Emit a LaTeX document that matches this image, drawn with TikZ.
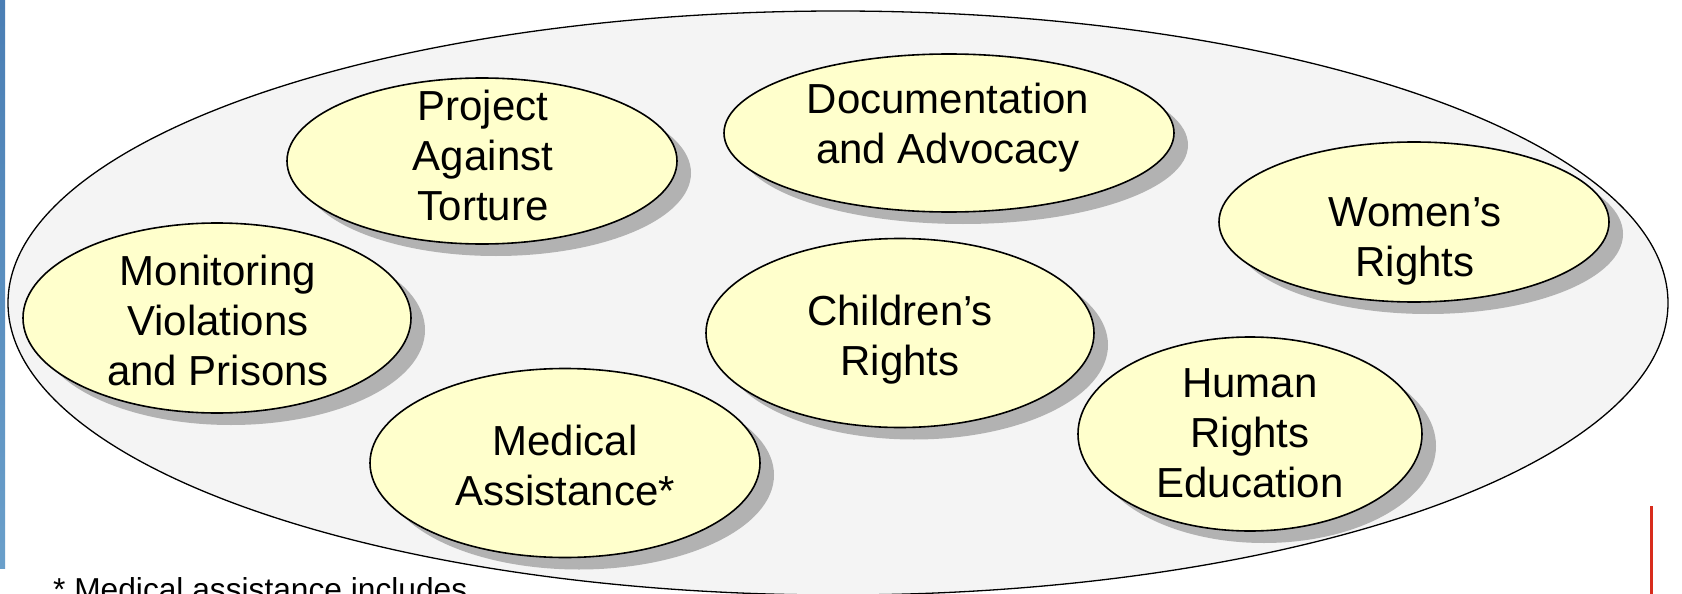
\documentclass[tikz,border=0pt]{standalone}
\usepackage{fontspec}
\setmainfont{Liberation Sans}
\usetikzlibrary{shapes.geometric,shadows}
\definecolor{blobfill}{HTML}{FFFFCC}
\definecolor{outerfill}{HTML}{F4F4F4}
\definecolor{shadowgray}{HTML}{B2B2B2}
\definecolor{bartop}{HTML}{4A7EB4}
\definecolor{barbottom}{HTML}{6A9FCA}
\definecolor{redline}{HTML}{D82C1C}
\begin{document}
\begin{tikzpicture}[x=1pt,y=-1pt,
  blob/.style={ellipse, draw=black, line width=1.6pt, fill=blobfill, inner sep=0pt,
    drop shadow={shadow xshift=14pt, shadow yshift=-12pt, fill=shadowgray, opacity=1}},
  lbl/.style={align=center, anchor=north, inner sep=0pt, font=\fontsize{42}{50}\selectfont},
]
\useasboundingbox (0,0) rectangle (1682,594);
\fill[white] (0,0) rectangle (1682,594);
\shade[top color=bartop, bottom color=barbottom] (0,0) rectangle (5,568);
\node[ellipse, draw=black, line width=1.3pt, fill=outerfill, inner sep=0pt,
  minimum width=1660pt, minimum height=584pt] (outer) at (838,303) {};

\node[blob, minimum width=390pt, minimum height=166pt] (pat) at (482,161) {};
\node[blob, minimum width=450pt, minimum height=158pt] (doc) at (949,133) {};
\node[blob, minimum width=390pt, minimum height=160pt] (wom) at (1414,222) {};
\node[blob, minimum width=388pt, minimum height=190pt] (mon) at (217,318) {};
\node[blob, minimum width=388pt, minimum height=189pt] (chi) at (900,333) {};
\node[blob, minimum width=390pt, minimum height=189pt] (med) at (565,463) {};
\node[blob, minimum width=344pt, minimum height=194pt] (hre) at (1250,434) {};

\node[lbl] (tpat) at (483,90) {Project\\Against\\Torture};
\node[lbl] (tdoc) at (948,83) {Documentation\\and Advocacy};
\node[lbl] (twom) at (1415,197) {Women’s\\Rights};
\node[lbl] (tmon) at (218,255) {Monitoring\\Violations\\and Prisons};
\node[lbl] (tchi) at (900,295) {Children’s\\Rights};
\node[lbl] (tmed) at (565,425) {Medical\\Assistance*};
\node[lbl] (thre) at (1250,368) {Human\\Rights\\Education};

\node[anchor=base west, inner sep=0pt, font=\fontsize{31.7}{38}\selectfont] (foot) at (53,600) {* Medical assistance includes};

\coordinate (rtop) at (1651,506);
\coordinate (rbot) at (1651,594);
\draw[redline, line width=3pt] (rtop) -- (rbot);
\end{tikzpicture}
\end{document}
